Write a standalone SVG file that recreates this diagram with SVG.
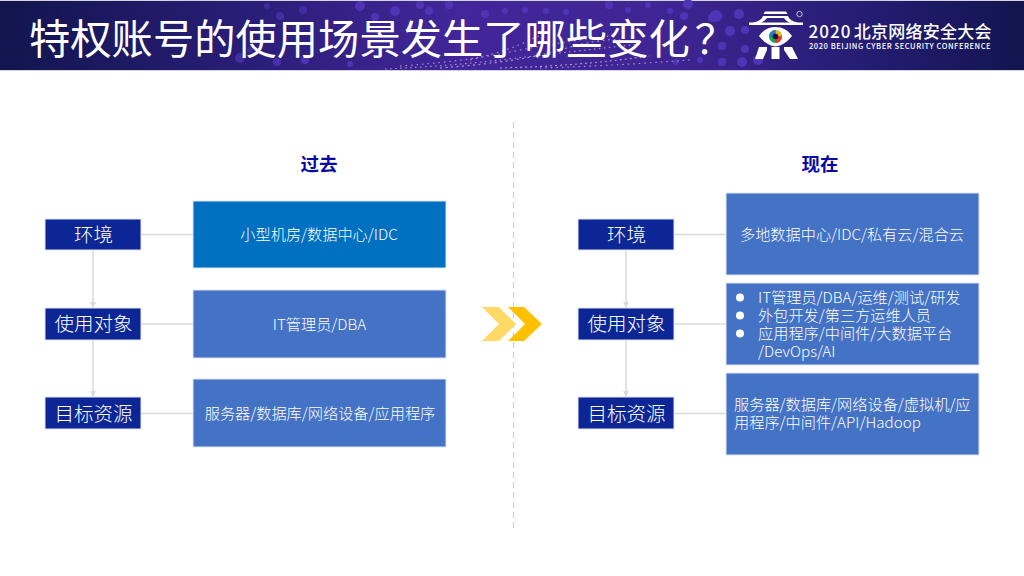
<svg xmlns="http://www.w3.org/2000/svg" width="1024" height="576" viewBox="0 0 1024 576">
<style>
text{font-family:"Noto Sans CJK SC","Noto Sans",sans-serif;fill:#fff}
.lab{font-size:19.5px;text-anchor:middle;font-weight:300}
.tx{font-size:15.2px;text-anchor:middle;font-weight:300}
.txl{font-size:15.2px;font-weight:300}
.hd{font-size:18.5px;font-weight:700;fill:#0808a4;text-anchor:middle}
.nav{fill:#0c2795;stroke:#dfe5f5;stroke-width:1}
.blu{fill:#4472c4;stroke:#dfe5f5;stroke-width:1}
.ln{stroke:#d9d9d9;stroke-width:1.5;fill:none}
.dot{fill:#4f35b5}
.pt{fill:none;stroke:#e6c8ee;stroke-width:1.1;opacity:.7}
</style>
<defs>
<linearGradient id="bg" x1="0" x2="1" y1="0" y2="0">
<stop offset="0" stop-color="#12154f"/><stop offset=".2" stop-color="#251c70"/><stop offset=".45" stop-color="#42269a"/><stop offset=".65" stop-color="#3f2593"/><stop offset=".85" stop-color="#241c72"/><stop offset="1" stop-color="#12154f"/>
</linearGradient>
<marker id="ah" markerWidth="7" markerHeight="6" refX="6.5" refY="3" orient="auto" markerUnits="userSpaceOnUse"><path d="M0 0L7 3L0 6Z" fill="#d9d9d9"/></marker>
</defs>
<rect width="1024" height="576" fill="#fff"/>
<g id="banner">
<rect y="0" width="1024" height="71" fill="#d4d4de"/>
<rect y="1" width="1024" height="69" fill="url(#bg)"/>
<g class="dot">
<circle cx="267" cy="6" r="3" opacity=".6"/><circle cx="280" cy="16" r="4" opacity=".7"/><circle cx="303" cy="10" r="4" opacity=".7"/><circle cx="360" cy="6" r="5"/><circle cx="395" cy="11" r="5"/><circle cx="420" cy="5" r="4"/><circle cx="449" cy="5" r="4"/><circle cx="429" cy="11" r="4"/><circle cx="375" cy="17" r="4"/><circle cx="410" cy="27" r="3"/><circle cx="485" cy="14" r="4"/><circle cx="505" cy="11" r="3"/><circle cx="525" cy="10" r="3"/><circle cx="546" cy="11" r="3"/><circle cx="566" cy="12" r="3"/><circle cx="609" cy="5" r="4"/><circle cx="628" cy="10" r="3"/><circle cx="648" cy="5" r="3"/><circle cx="670" cy="11" r="3"/><circle cx="684" cy="16" r="4"/><circle cx="688" cy="4" r="5"/><circle cx="716" cy="16" r="6"/><circle cx="730" cy="31" r="5"/><circle cx="739" cy="14" r="5"/><circle cx="745" cy="49" r="4"/><circle cx="722" cy="46" r="4"/><circle cx="712" cy="18" r="4"/><circle cx="722" cy="62" r="4"/><circle cx="742" cy="62" r="5"/><circle cx="758" cy="60" r="5"/><circle cx="745" cy="30" r="4"/><circle cx="240" cy="58" r="5" opacity=".7"/><circle cx="277" cy="62" r="4" opacity=".8"/><circle cx="305" cy="60" r="4"/><circle cx="350" cy="64" r="3"/><circle cx="250" cy="50" r="3" opacity=".6"/>
<circle cx="700" cy="60" r="3"/><circle cx="676" cy="62" r="3"/>
</g>
<g>
<path class="pt" d="M385 69Q450 66 500 60T640 44" stroke-dasharray="1.500 3.500"/>
<path class="pt" d="M400 66Q460 62 510 52T610 36" stroke-dasharray="1.500 4"/>
<path class="pt" d="M440 68Q520 62 560 50T620 40" stroke-dasharray="2 3.500"/>
<path class="pt" d="M470 60Q510 50 530 40T560 30" stroke-dasharray="1.500 4"/>
<path class="pt" d="M500 68Q580 66 650 56" stroke-dasharray="2 3"/>
<path class="pt" d="M540 68Q610 66 690 60" stroke-dasharray="1.500 4"/>
</g>
<text x="29" y="54" font-size="41.300" font-weight="400">特权账号的使用场景发生了哪些变化<tspan dx="5">？</tspan></text>
<g id="logo" fill="#fff">
<path d="M765 11.500h21l1.500 2.500h-24Z"/>
<path d="M763 16h25c1 3 4 5.500 10 6.500h5V25H749v-2.500h4c6-1 9-3.500 10-6.500Z M767 18c-1.500 2-3 3.500-6 4.500h29c-3-1-4.500-2.500-6-4.500Z" fill-rule="evenodd"/>
<path d="M759 36c4-6 10-9 16.500-9s12.500 3 16.500 9c-4 5-9 9.500-16.500 10.500C768 45.500 763 41 759 36Z"/>
<circle cx="775.500" cy="36.500" r="6.500" fill="#18a558"/>
<path d="M775.500 30a6.500 6.500 0 0 1 6.500 6.500h-6.500Z" fill="#f2b21b"/>
<path d="M782 36.500a6.500 6.500 0 0 1-6.500 6.500v-6.500Z" fill="#e5352c"/>
<path d="M769 36.500a6.500 6.500 0 0 1 6.500-6.500v6.500Z" fill="#1f7ad1"/>
<circle cx="775.500" cy="36.500" r="2.800" fill="#1a1040"/>
<path d="M759 47h8v3l-4 9h-8ZM771.500 47h8v12h-8ZM784 47h8l6 12h-8l-6-9Z"/>
<circle cx="799.500" cy="14" r="2.700" fill="none" stroke="#fff" stroke-width=".7"/>
<text x="808.500" y="38" font-size="17" font-weight="500"><tspan letter-spacing="1.100">2020</tspan><tspan dx="2" letter-spacing=".25">北京网络安全大会</tspan></text>
<text x="809" y="49" font-size="7.600" font-weight="500" letter-spacing=".53">2020 BEIJING CYBER SECURITY CONFERENCE</text>
</g>
</g>
<line x1="513.500" y1="122" x2="513.500" y2="528" stroke="#d0d0d0" stroke-width="1.200" stroke-dasharray="6 4"/>
<g id="connectors">
<path class="ln" d="M93 250V308" marker-end="url(#ah)"/><path class="ln" d="M93 340V397" marker-end="url(#ah)"/>
<path class="ln" d="M141 234.500H193M141 324H193M141 413.500H193"/>
<path class="ln" d="M626 250V308" marker-end="url(#ah)"/><path class="ln" d="M626 340V397" marker-end="url(#ah)"/>
<path class="ln" d="M674 234.500H726M674 324H726M674 413.500H726"/>
</g>
<text class="hd" x="319" y="171">过去</text>
<text class="hd" x="820" y="171">现在</text>
<g id="l-env"><rect class="nav" x="45" y="219" width="96" height="31"/><text class="lab" x="93.500" y="242">环境</text></g>
<g id="l-user"><rect class="nav" x="45" y="308" width="96" height="32"/><text class="lab" x="93.500" y="331">使用对象</text></g>
<g id="l-res"><rect class="nav" x="45" y="397" width="96" height="32"/><text class="lab" x="93.500" y="421">目标资源</text></g>
<g id="l-env-d"><rect x="193" y="201" width="253" height="67" fill="#0070c0" stroke="#dfe5f5"/><text class="tx" x="319" y="240">小型机房/数据中心/IDC</text></g>
<g id="l-user-d"><rect class="blu" x="193" y="290" width="253" height="68"/><text class="tx" x="319.500" y="329.500">IT管理员/DBA</text></g>
<g id="l-res-d"><rect class="blu" x="193" y="379" width="253" height="68"/><text class="tx" x="320" y="419">服务器/数据库/网络设备/应用程序</text></g>
<g id="arrows">
<path d="M482 307h17l17 17-17 17h-17l17-17Z" fill="#ffd966"/>
<path d="M508 307h16l18 17-18 17h-16l17-17Z" fill="#ffc000"/>
</g>
<g id="r-env"><rect class="nav" x="578" y="219" width="96" height="31"/><text class="lab" x="626.500" y="242">环境</text></g>
<g id="r-user"><rect class="nav" x="578" y="308" width="96" height="32"/><text class="lab" x="626.500" y="331">使用对象</text></g>
<g id="r-res"><rect class="nav" x="578" y="397" width="96" height="32"/><text class="lab" x="626.500" y="421">目标资源</text></g>
<g id="r-env-d"><rect class="blu" x="726" y="193" width="253" height="82"/><text class="tx" x="852" y="240">多地数据中心/IDC/私有云/混合云</text></g>
<g id="r-user-d"><rect class="blu" x="726" y="283" width="253" height="82"/>
<circle cx="740" cy="297.500" r="4" fill="#fff"/><circle cx="740" cy="315.500" r="4" fill="#fff"/><circle cx="740" cy="333.500" r="4" fill="#fff"/>
<text class="txl" x="758" y="303">IT管理员/DBA/运维/测试/研发</text>
<text class="txl" x="758" y="321">外包开发/第三方运维人员</text>
<text class="txl" x="758" y="339">应用程序/中间件/大数据平台</text>
<text class="txl" x="758" y="357">/DevOps/AI</text></g>
<g id="r-res-d"><rect class="blu" x="726" y="373" width="253" height="82"/>
<text class="txl" x="734" y="410">服务器/数据库/网络设备/虚拟机/应</text>
<text class="txl" x="734" y="428">用程序/中间件/API/Hadoop</text></g>
</svg>
